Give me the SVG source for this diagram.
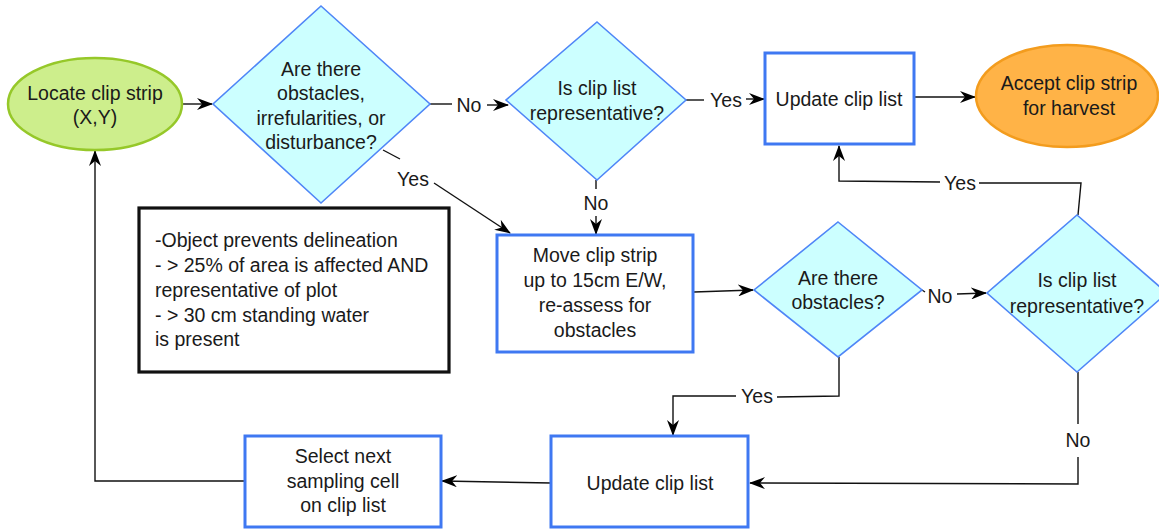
<svg xmlns="http://www.w3.org/2000/svg" width="1159" height="529" viewBox="0 0 1159 529">
<defs>
<marker id="arr" viewBox="0 0 16 12" markerWidth="16" markerHeight="12" refX="15" refY="6" orient="auto" markerUnits="userSpaceOnUse">
<path d="M0,0 L16,6 L0,12 L5,6 z" fill="#000"/>
</marker>
<style>
text{font-family:"Liberation Sans",Arial,sans-serif;font-size:19.5px;fill:#1a1a1a;text-anchor:middle}
.dia{fill:#ccffff;stroke:#4f86f7;stroke-width:1.6}
.box{fill:#fff;stroke:#3f78f2;stroke-width:3}
.ln{fill:none;stroke:#111;stroke-width:1.4}
.ar{marker-end:url(#arr)}
.lt{text-anchor:start}
</style>
</defs>
<rect width="1159" height="529" fill="#fff"/>
<g id="connectors">
<line class="ln ar" x1="182" y1="104" x2="212" y2="104"/>
<line class="ln" x1="430" y1="104" x2="452" y2="104"/>
<line class="ln ar" x1="487" y1="105" x2="508" y2="105"/>
<line class="ln" x1="686" y1="100" x2="704" y2="100"/>
<line class="ln ar" x1="746" y1="99" x2="764" y2="99"/>
<line class="ln ar" x1="914" y1="97" x2="975" y2="97"/>
<line class="ln" x1="383" y1="150" x2="400" y2="159"/>
<line class="ln ar" x1="434" y1="183" x2="510" y2="233"/>
<line class="ln" x1="596" y1="180" x2="596" y2="189"/>
<line class="ln ar" x1="596" y1="216" x2="596" y2="234"/>
<line class="ln ar" x1="694" y1="292" x2="753" y2="290"/>
<line class="ln" x1="922" y1="290" x2="925" y2="292"/>
<line class="ln ar" x1="957" y1="294" x2="986" y2="293"/>
<polyline class="ln" points="1078,215 1081,183 979,183"/>
<polyline class="ln ar" points="940,182 839,181 839,146"/>
<polyline class="ln" points="839,357 839,396 777,397"/>
<polyline class="ln ar" points="736,396 673,396 673,435"/>
<line class="ln" x1="1078" y1="372" x2="1078" y2="424"/>
<polyline class="ln ar" points="1078,457 1078,484 750,483"/>
<line class="ln ar" x1="551" y1="483" x2="442" y2="481"/>
<polyline class="ln ar" points="245,481 95,481 95,151"/>
<text x="469" y="112">No</text>
<text x="726" y="107">Yes</text>
<text x="413" y="186">Yes</text>
<text x="596" y="210">No</text>
<text x="940" y="303">No</text>
<text x="960" y="190">Yes</text>
<text x="757" y="403">Yes</text>
<text x="1078" y="447">No</text>
</g>
<g id="locate">
<ellipse cx="95" cy="104" rx="87" ry="46" fill="#cdee8c" stroke="#96c829" stroke-width="2.5"/>
<text x="95" y="100">Locate clip strip</text>
<text x="95" y="124">(X,Y)</text>
</g>
<g id="obstacles1">
<polygon class="dia" points="321,6 430,104 321,203 213,104"/>
<text x="321" y="76">Are there</text>
<text x="321" y="100">obstacles,</text>
<text x="321" y="124.5">irrefularities, or</text>
<text x="321" y="148.5">disturbance?</text>
</g>
<g id="representative1">
<polygon class="dia" points="597,22 686,100 597,180 506,100"/>
<text x="597" y="95">Is clip list</text>
<text x="597" y="120">representative?</text>
</g>
<g id="update1">
<rect class="box" x="765" y="53" width="149" height="91"/>
<text x="839" y="106">Update clip list</text>
</g>
<g id="accept">
<ellipse cx="1067" cy="96" rx="91" ry="51" fill="#ffb347" stroke="#f39c1e" stroke-width="2.5"/>
<text x="1069" y="90">Accept clip strip</text>
<text x="1069" y="115">for harvest</text>
</g>
<g id="note">
<rect x="139" y="208" width="310" height="164" fill="#fff" stroke="#111" stroke-width="3.2"/>
<text class="lt" x="155" y="247">-Object prevents delineation</text>
<text class="lt" x="155" y="272">- &gt; 25% of area is affected AND</text>
<text class="lt" x="155" y="297">representative of plot</text>
<text class="lt" x="155" y="322">- &gt; 30 cm standing water</text>
<text class="lt" x="155" y="346">is present</text>
</g>
<g id="move">
<rect class="box" x="497" y="235" width="196" height="117"/>
<text x="595" y="262">Move clip strip</text>
<text x="595" y="287">up to 15cm E/W,</text>
<text x="595" y="312">re-assess for</text>
<text x="595" y="337">obstacles</text>
</g>
<g id="obstacles2">
<polygon class="dia" points="838,222 922,290 838,357 754,290"/>
<text x="838" y="285">Are there</text>
<text x="838" y="309">obstacles?</text>
</g>
<g id="representative2">
<polygon class="dia" points="1077,215 1167,293 1077,372 987,293"/>
<text x="1077" y="287">Is clip list</text>
<text x="1077" y="313">representative?</text>
</g>
<g id="update2">
<rect class="box" x="551" y="436" width="197" height="91"/>
<text x="650" y="490">Update clip list</text>
</g>
<g id="select">
<rect class="box" x="245" y="436" width="196" height="91"/>
<text x="343" y="463">Select next</text>
<text x="343" y="488">sampling cell</text>
<text x="343" y="512">on clip list</text>
</g>
</svg>
